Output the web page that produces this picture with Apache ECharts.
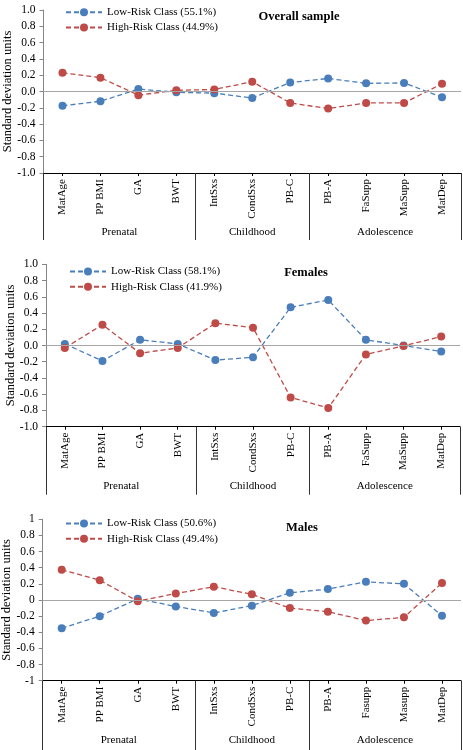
<!DOCTYPE html>
<html>
<head>
<meta charset="utf-8">
<script src="https://cdn.jsdelivr.net/npm/echarts@6/dist/echarts.min.js"></script>
<style>
html,body{margin:0;padding:0;background:#fff;}
#chart{width:463px;height:750px;}
</style>
</head>
<body>
<div id="chart"></div>
<script>
// ---- data ----
const categoriesA = ['MatAge','PP BMI','GA','BWT','IntSxs','CondSxs','PB-C','PB-A','FaSupp','MaSupp','MatDep'];
const categoriesB = ['MatAge','PP BMI','GA','BWT','IntSxs','CondSxs','PB-C','PB-A','Fasupp','Masupp','MatDep'];
const groupNames = ['Prenatal','Childhood','Adolescence'];
const groupBoundaries = [0, 4, 7, 11];
const groupMidpoints = [2, 5.5, 9];

const panelTitles = ['Overall sample', 'Females', 'Males'];
const lowNames = ['Low-Risk Class (55.1%)', 'Low-Risk Class (58.1%)', 'Low-Risk Class (50.6%)'];
const highNames = ['High-Risk Class (44.9%)', 'High-Risk Class (41.9%)', 'High-Risk Class (49.4%)'];

const overallLow  = [-0.175, -0.12, 0.03, -0.01, -0.02, -0.08, 0.11, 0.16, 0.10, 0.105, -0.07];
const overallHigh = [0.23, 0.17, -0.045, 0.015, 0.025, 0.12, -0.14, -0.21, -0.14, -0.14, 0.095];
const femaleLow   = [0.02, -0.19, 0.07, 0.02, -0.18, -0.145, 0.47, 0.56, 0.07, 0.0, -0.075];
const femaleHigh  = [-0.03, 0.255, -0.095, -0.03, 0.275, 0.22, -0.64, -0.77, -0.11, -0.005, 0.11];
const maleLow     = [-0.35, -0.2, 0.015, -0.08, -0.16, -0.07, 0.09, 0.135, 0.225, 0.2, -0.195];
const maleHigh    = [0.375, 0.245, -0.015, 0.08, 0.165, 0.07, -0.1, -0.145, -0.255, -0.215, 0.21];

// ---- layout ----
const FONT = 'Liberation Serif';
const BLUE = '#4A7EBB';
const RED = '#BE4B48';
const panels = [
  {cats: categoriesA, low: overallLow, high: overallHigh, grid: {left: 43.5, right: 2, top: 10, height: 163},
   yFmt: v => v.toFixed(1), legend: {left: 65, top: 6.7}, title: {x: 299, y: 10}, sepLen: 67},
  {cats: categoriesA, low: femaleLow, high: femaleHigh, grid: {left: 46, right: 3, top: 264.3, height: 162.4},
   yFmt: v => v.toFixed(1), legend: {left: 69, top: 266}, title: {x: 306, y: 266}, sepLen: 68},
  {cats: categoriesB, low: maleLow, high: maleHigh, grid: {left: 42.7, right: 2, top: 519.3, height: 161.4},
   yFmt: v => String(parseFloat(v.toFixed(1))), legend: {left: 65, top: 518}, title: {x: 302, y: 521}, sepLen: 75}
];

const option = {
  animation: false,
  backgroundColor: '#fff',
  textStyle: {fontFamily: FONT},
  title: [], legend: [], grid: [], xAxis: [], yAxis: [], series: []
};

panels.forEach((p, i) => {
  option.title.push({
    text: panelTitles[i], left: p.title.x, top: p.title.y, textAlign: 'center', padding: 0,
    textStyle: {fontFamily: FONT, fontSize: 12.5, fontWeight: 'bold', color: '#000'}
  });
  option.legend.push({
    data: [lowNames[i], highNames[i]], orient: 'vertical', left: p.legend.left, top: p.legend.top,
    itemWidth: 36, itemHeight: 10, itemGap: 4.3, padding: 0,
    textStyle: {fontFamily: FONT, fontSize: 11, color: '#000'}
  });
  option.grid.push(Object.assign({containLabel: false, outerBoundsMode: 'none'}, p.grid));
  // category axis
  option.xAxis.push({
    type: 'category', gridIndex: i, data: p.cats, boundaryGap: true, position: 'bottom',
    axisLine: {onZero: false, lineStyle: {color: '#000', width: 1}},
    axisTick: {show: true, alignWithLabel: true, length: 3, lineStyle: {color: '#000'}},
    axisLabel: {rotate: 90, margin: 6, fontFamily: FONT, fontSize: 11, color: '#000', interval: 0},
    splitLine: {show: false}
  });
  // group axis (separators + group names)
  option.xAxis.push({
    type: 'value', gridIndex: i, min: 0, max: p.cats.length, position: 'bottom',
    axisLine: {show: false, onZero: false},
    axisTick: {show: true, customValues: groupBoundaries, length: p.sepLen, lineStyle: {color: '#333', width: 1}},
    axisLabel: {show: true, customValues: groupMidpoints, margin: 54, fontFamily: FONT, fontSize: 11, color: '#000',
      formatter: v => groupNames[groupMidpoints.indexOf(v)] || ''},
    splitLine: {show: false}
  });
  option.yAxis.push({
    type: 'value', gridIndex: i, min: -1, max: 1, interval: 0.2,
    name: 'Standard deviation units', nameLocation: 'middle', nameRotate: 90, nameGap: 29,
    nameMoveOverlap: false,
    nameTextStyle: {fontFamily: FONT, fontSize: 12.5, color: '#000'},
    axisLine: {show: true, onZero: false, lineStyle: {color: '#868686'}},
    axisTick: {show: true, length: 4, lineStyle: {color: '#868686'}},
    axisLabel: {margin: 8, fontFamily: FONT, fontSize: 11.5, color: '#000', formatter: p.yFmt},
    splitLine: {show: false}
  });
  option.series.push({
    type: 'line', name: lowNames[i], xAxisIndex: i * 2, yAxisIndex: i, data: p.low,
    symbol: 'circle', symbolSize: 8, showAllSymbol: true,
    lineStyle: {color: BLUE, width: 1.3, type: [5, 3]},
    itemStyle: {color: BLUE},
    markLine: {silent: true, symbol: 'none', label: {show: false},
      lineStyle: {color: '#A6A6A6', width: 1, type: 'solid'}, data: [{yAxis: 0}], animation: false},
    z: 2
  });
  option.series.push({
    type: 'line', name: highNames[i], xAxisIndex: i * 2, yAxisIndex: i, data: p.high,
    symbol: 'circle', symbolSize: 8, showAllSymbol: true,
    lineStyle: {color: RED, width: 1.3, type: [5, 3]},
    itemStyle: {color: RED},
    z: 3
  });
});

const chart = echarts.init(document.getElementById('chart'), null, {renderer: 'canvas'});
chart.setOption(option);
</script>
</body>
</html>
